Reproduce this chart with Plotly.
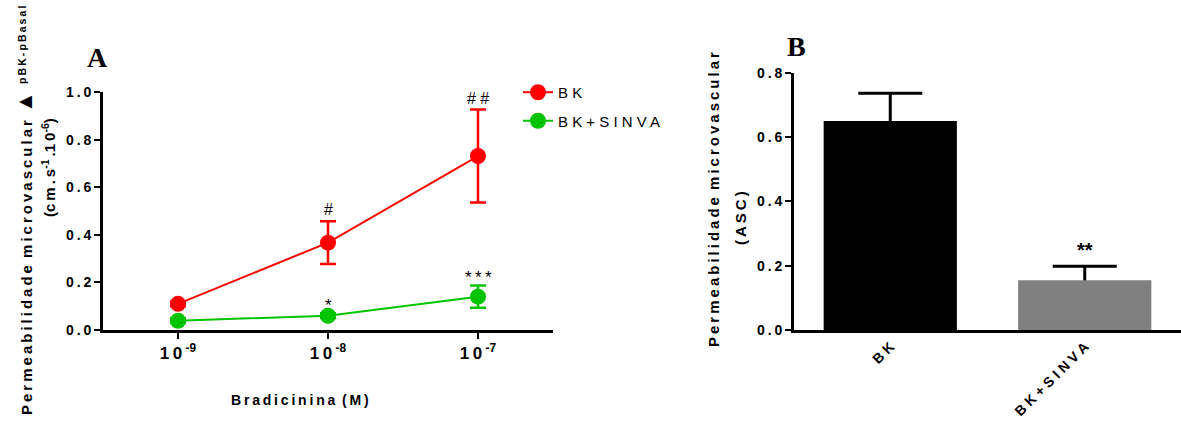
import math
import plotly.graph_objects as go

# ---- Panel A: dose-response ----
doses = [1e-9, 1e-8, 1e-7]
dose_labels = ["10<sup>-9</sup>", "10<sup>-8</sup>", "10<sup>-7</sup>"]
bk_mean = [0.11, 0.367, 0.731]
bk_sem = [0.01, 0.09, 0.195]
bk_sig = ["", "#", "# #"]
sinva_mean = [0.039, 0.06, 0.14]
sinva_sem = [0.01, 0.01, 0.047]
sinva_sig = ["", "*", "*\u2009*\u2009*"]

# ---- Panel B: area under the curve ----
groups = ["BK", "BK+SINVA"]
asc_mean = [0.65, 0.155]
asc_sem = [0.086, 0.043]
asc_sig = ["", "**"]
bar_colors = ["#000000", "#808080"]

ticks_a = [0.0, 0.2, 0.4, 0.6, 0.8, 1.0]
ticks_b = [0.0, 0.2, 0.4, 0.6, 0.8]

W, H = 1181, 421
SANS = "Liberation Sans, Arial, sans-serif"
SERIF = "Liberation Serif, Times New Roman, serif"
RED = "#ff0000"
GREEN = "#00c400"
THIN = "\u2009"
WORD = "\u00a0\u2009"

# concentrations are plotted on a log10 scale
log_doses = [math.log10(d) for d in doses]


def spaced(s, sep=THIN):
    return sep.join(s)


def px_x(p):
    return p / W


def px_y(p):
    return (H - p) / H


fig = go.Figure()

fig.add_trace(go.Scatter(
    x=log_doses, y=bk_mean, mode="lines+markers", name="B K",
    legendgroup="bk",
    line=dict(color=RED, width=2),
    marker=dict(color=RED, size=16),
    error_y=dict(type="data", array=bk_sem, color=RED, thickness=2.5, width=8),
    xaxis="x", yaxis="y",
))
fig.add_trace(go.Scatter(
    x=log_doses, y=sinva_mean, mode="lines+markers", name="B K + S I N V A",
    legendgroup="sinva",
    line=dict(color=GREEN, width=2),
    marker=dict(color=GREEN, size=16),
    error_y=dict(type="data", array=sinva_sem, color=GREEN, thickness=2.5, width=8),
    xaxis="x", yaxis="y",
))

# error bars sit underneath the bars (bars live on an overlaying subplot)
fig.add_trace(go.Scatter(
    x=groups, y=asc_mean, mode="markers", showlegend=False,
    marker=dict(size=1, opacity=0),
    error_y=dict(type="data", array=asc_sem, symmetric=True, color="black",
                 thickness=3, width=32),
    xaxis="x2", yaxis="y2", hoverinfo="skip",
))
fig.add_trace(go.Bar(
    x=groups, y=asc_mean, width=0.685, showlegend=False,
    marker=dict(color=bar_colors, line=dict(width=0)),
    xaxis="x3", yaxis="y3",
))

tickfont = dict(family=SANS, size=14, color="black", weight="bold")
axis_common = dict(showline=True, linecolor="black", linewidth=3,
                   ticks="outside", ticklen=6, tickwidth=2, tickcolor="black",
                   showgrid=False, zeroline=False,
                   automargin=False)

xa_dom = [px_x(103), px_x(553)]
ya_dom = [px_y(330), px_y(92)]
xb_dom = [px_x(794), 1.0]
yb_dom = [px_y(330), px_y(72.7)]
xb_range = [-0.495, 1.495]
yb_range = [0, 0.8]

fig.update_layout(
    template="none",
    width=W, height=H,
    margin=dict(l=0, r=0, t=0, b=0, pad=0),
    paper_bgcolor="white", plot_bgcolor="white",
    xaxis=dict(range=[-9.5, -6.5], domain=xa_dom, anchor="y",
               tickvals=log_doses,
               ticktext=[spaced(t[:2]) + THIN + t[2:] for t in dose_labels],
               tickfont=dict(family=SANS, size=17, color="black", weight="bold"),
               **axis_common),
    yaxis=dict(range=[0, 1.0], domain=ya_dom, anchor="x",
               tickvals=ticks_a, ticktext=[spaced(f"{v:.1f}") for v in ticks_a],
               tickfont=tickfont, **axis_common),
    xaxis2=dict(type="category", range=xb_range, domain=xb_dom, anchor="y2",
                showline=True, linecolor="black", linewidth=3, ticks="",
                showgrid=False, zeroline=False, tickfont=tickfont,
                automargin=False,
                tickangle=-45, tickvals=groups,
                ticktext=[spaced(g, " ") for g in groups]),
    yaxis2=dict(range=yb_range, domain=yb_dom, anchor="x2",
                tickvals=ticks_b, ticktext=[spaced(f"{v:.1f}") for v in ticks_b],
                tickfont=tickfont, **axis_common),
    xaxis3=dict(type="category", range=xb_range, overlaying="x2", visible=False,
                automargin=False),
    yaxis3=dict(range=yb_range, overlaying="y2", visible=False, automargin=False),
    legend=dict(x=px_x(518), y=px_y(76), xanchor="left", yanchor="top",
                font=dict(family=SANS, size=15, color="black"),
                bgcolor="rgba(0,0,0,0)", tracegroupgap=6),
    showlegend=True,
)

ann = []
# significance marks, panel A
for ms, es, sig, shift, size in [(bk_mean, bk_sem, bk_sig, 1, 16),
                                 (sinva_mean, sinva_sem, sinva_sig, -4, 17)]:
    for xv, m, e, s in zip(log_doses, ms, es, sig):
        if s:
            ann.append(dict(x=xv, y=m + e, xref="x", yref="y",
                            text=s, showarrow=False, yanchor="bottom",
                            yshift=shift, font=dict(family=SANS, size=size, color="black")))
# significance marks, panel B
for g, m, e, s in zip(groups, asc_mean, asc_sem, asc_sig):
    if s:
        ann.append(dict(x=g, y=m + e, xref="x2", yref="y2", text=s, showarrow=False,
                        yanchor="bottom", yshift=3,
                        font=dict(family=SANS, size=20, color="black", weight="bold")))

# panel letters
ann.append(dict(x=px_x(97), y=px_y(57), xref="paper", yref="paper", text="A",
                showarrow=False, xanchor="center", yanchor="middle",
                font=dict(family=SERIF, size=28, color="black", weight="bold")))
ann.append(dict(x=px_x(796), y=px_y(46), xref="paper", yref="paper", text="B",
                showarrow=False, xanchor="center", yanchor="middle",
                font=dict(family=SERIF, size=28, color="black", weight="bold")))

title_font = dict(family=SANS, size=15, color="black", weight="bold")
line1 = (spaced("Permeabilidade") + WORD + spaced("microvascular") + WORD
         + "<span style='font-size:22px'>\u25B2</span>" + WORD + "<sup>"
         + spaced("pBK-pBasal") + "</sup>")
ann.append(dict(x=px_x(24), y=px_y(211), xref="paper", yref="paper", text=line1,
                textangle=-90, showarrow=False, xanchor="center", yanchor="middle",
                font=title_font))
line2 = ("(" + spaced("cm.s") + "<sup>-1</sup>" + THIN + "." + spaced("10")
         + "<sup>-6</sup>" + ")")
ann.append(dict(x=px_x(48), y=px_y(167), xref="paper", yref="paper", text=line2,
                textangle=-90, showarrow=False, xanchor="center", yanchor="middle",
                font=title_font))
ann.append(dict(x=px_x(300), y=px_y(400), xref="paper", yref="paper",
                text=spaced("Bradicinina") + WORD + spaced("(M)"),
                showarrow=False, xanchor="center", yanchor="middle",
                font=dict(family=SANS, size=14, color="black", weight="bold")))
ann.append(dict(x=px_x(713), y=px_y(200), xref="paper", yref="paper",
                text=spaced("Permeabilidade") + WORD + spaced("microvascular"),
                textangle=-90, showarrow=False, xanchor="center", yanchor="middle",
                font=title_font))
ann.append(dict(x=px_x(741), y=px_y(218), xref="paper", yref="paper",
                text=spaced("(ASC)"),
                textangle=-90, showarrow=False, xanchor="center", yanchor="middle",
                font=title_font))

fig.update_layout(annotations=ann)
fig.write_html("out.html")
